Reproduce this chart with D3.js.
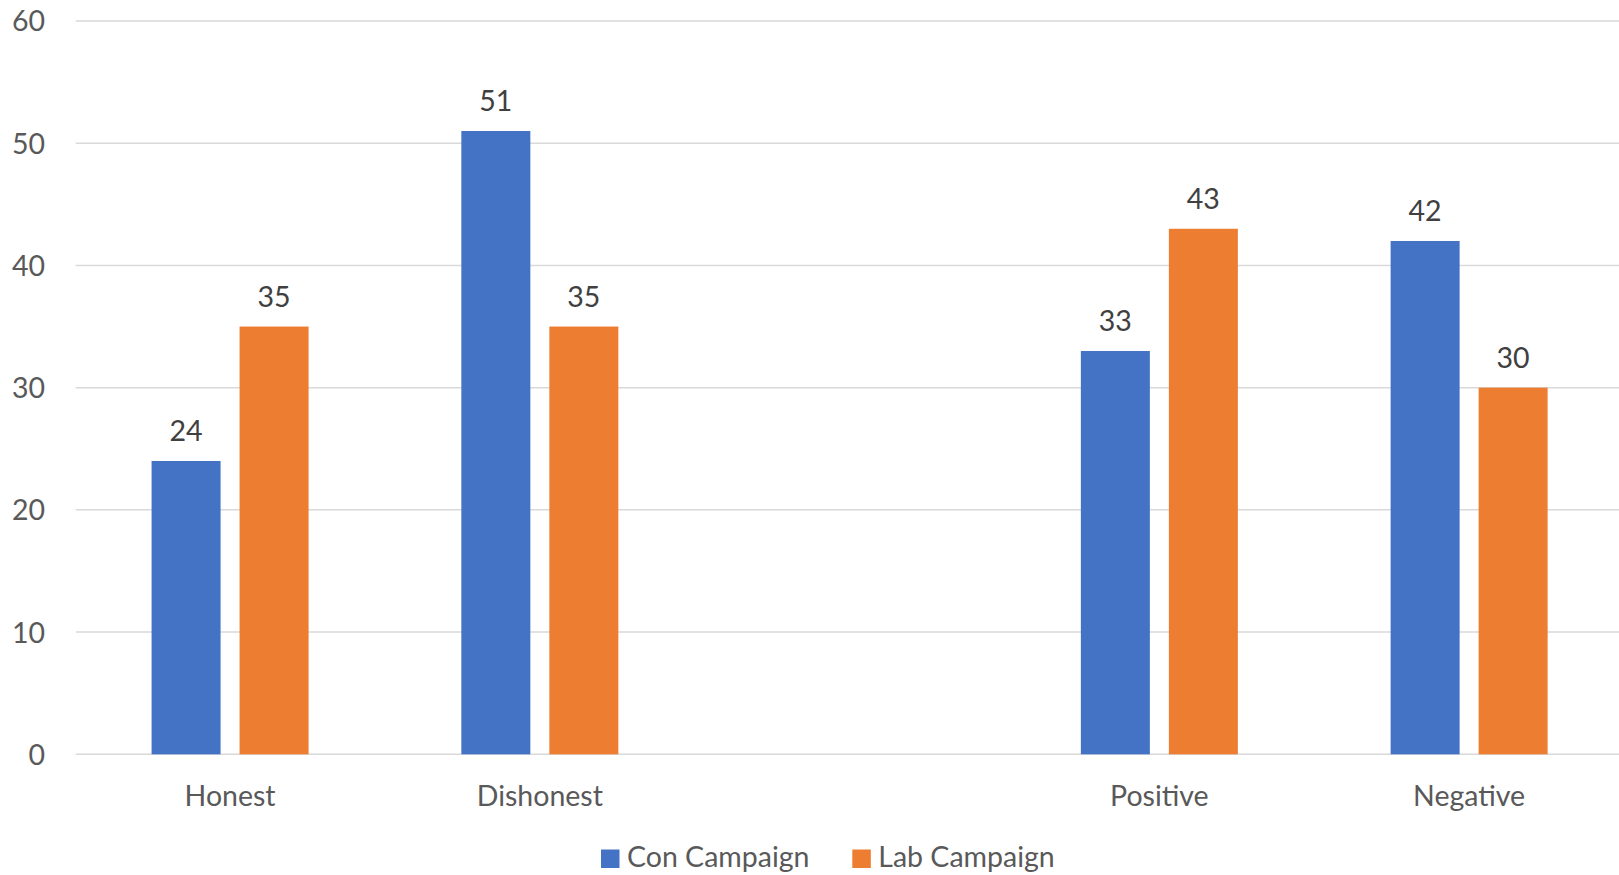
<!DOCTYPE html>
<html><head><meta charset="utf-8">
<script src="https://cdn.jsdelivr.net/npm/d3@7"></script>
<style>body{margin:0;background:#fff;}svg{display:block;}text{font-family:Lato,"Open Sans",sans-serif;}</style>
</head><body>
<script>
const categories = ["Honest", "Dishonest", "", "Positive", "Negative"];
const seriesNames = ["Con Campaign", "Lab Campaign"];
const conValues = [24, 51, null, 33, 42];
const labValues = [35, 35, null, 43, 30];
const yTicks = [0, 10, 20, 30, 40, 50, 60];
const colors = ["#4472C4", "#ED7D31"];

(function () {
const W = 1619, H = 875;
const FS = 28.5;
const svg = d3.select("body").append("svg").attr("width", W).attr("height", H);
const mLeft = 75.2, mRight = 1624, mTop = 21, mBottom = 754.3;

const x = d3.scaleBand().domain(d3.range(categories.length)).range([mLeft, mRight]).paddingInner(0).paddingOuter(0);
const y = d3.scaleLinear().domain([0, 60]).range([mBottom, mTop]);

// gridlines
svg.append("g").selectAll("line").data(yTicks).join("line")
  .attr("x1", 75.7).attr("x2", W)
  .attr("y1", d => y(d)).attr("y2", d => y(d))
  .attr("stroke", "#D9D9D9").attr("stroke-width", 1.5);

// y axis labels
const yAxis = d3.axisLeft(y).tickValues(yTicks).tickSize(0).tickPadding(0);
const ya = svg.append("g").attr("transform", `translate(45,0)`).call(yAxis);
ya.select(".domain").remove();
ya.selectAll("text").attr("font-size", FS).attr("fill", "#595959").attr("font-family", "Lato,'Open Sans',sans-serif").attr("dy", "0.35em");

// x axis labels
const xAxis = d3.axisBottom(x).tickFormat(i => categories[i]).tickSize(0).tickPadding(0);
const xa = svg.append("g").attr("transform", `translate(0,${mBottom})`).call(xAxis);
xa.select(".domain").remove();
xa.selectAll("text").attr("font-size", FS).attr("fill", "#595959").attr("font-family", "Lato,'Open Sans',sans-serif").attr("y", 52).attr("dy", 0);

const barW = 69, gap = 19;
const inner = d3.scaleOrdinal().domain([0, 1]).range([-(gap / 2 + barW), gap / 2]);
const series = [conValues, labValues];

series.forEach((vals, s) => {
  const data = vals.map((v, i) => ({ v, i })).filter(d => d.v != null);
  const g = svg.append("g");
  g.selectAll("rect").data(data).join("rect")
    .attr("x", d => x(d.i) + x.bandwidth() / 2 + inner(s))
    .attr("width", barW)
    .attr("y", d => y(d.v))
    .attr("height", d => y(0) - y(d.v))
    .attr("fill", colors[s]);
  g.selectAll("text").data(data).join("text")
    .attr("x", d => x(d.i) + x.bandwidth() / 2 + inner(s) + barW / 2)
    .attr("y", d => y(d.v) - 20)
    .attr("text-anchor", "middle")
    .attr("font-size", FS).attr("fill", "#404040")
    .text(d => d.v);
});

// legend
const legendX = [601, 852.3];
const lg = svg.append("g");
seriesNames.forEach((n, s) => {
  lg.append("rect").attr("x", legendX[s]).attr("y", 849.5).attr("width", 18.5).attr("height", 18.5).attr("fill", colors[s]);
  lg.append("text").attr("x", legendX[s] + 26).attr("y", 867).attr("font-size", FS).attr("fill", "#595959").text(n);
});
})();
</script>
</body></html>
